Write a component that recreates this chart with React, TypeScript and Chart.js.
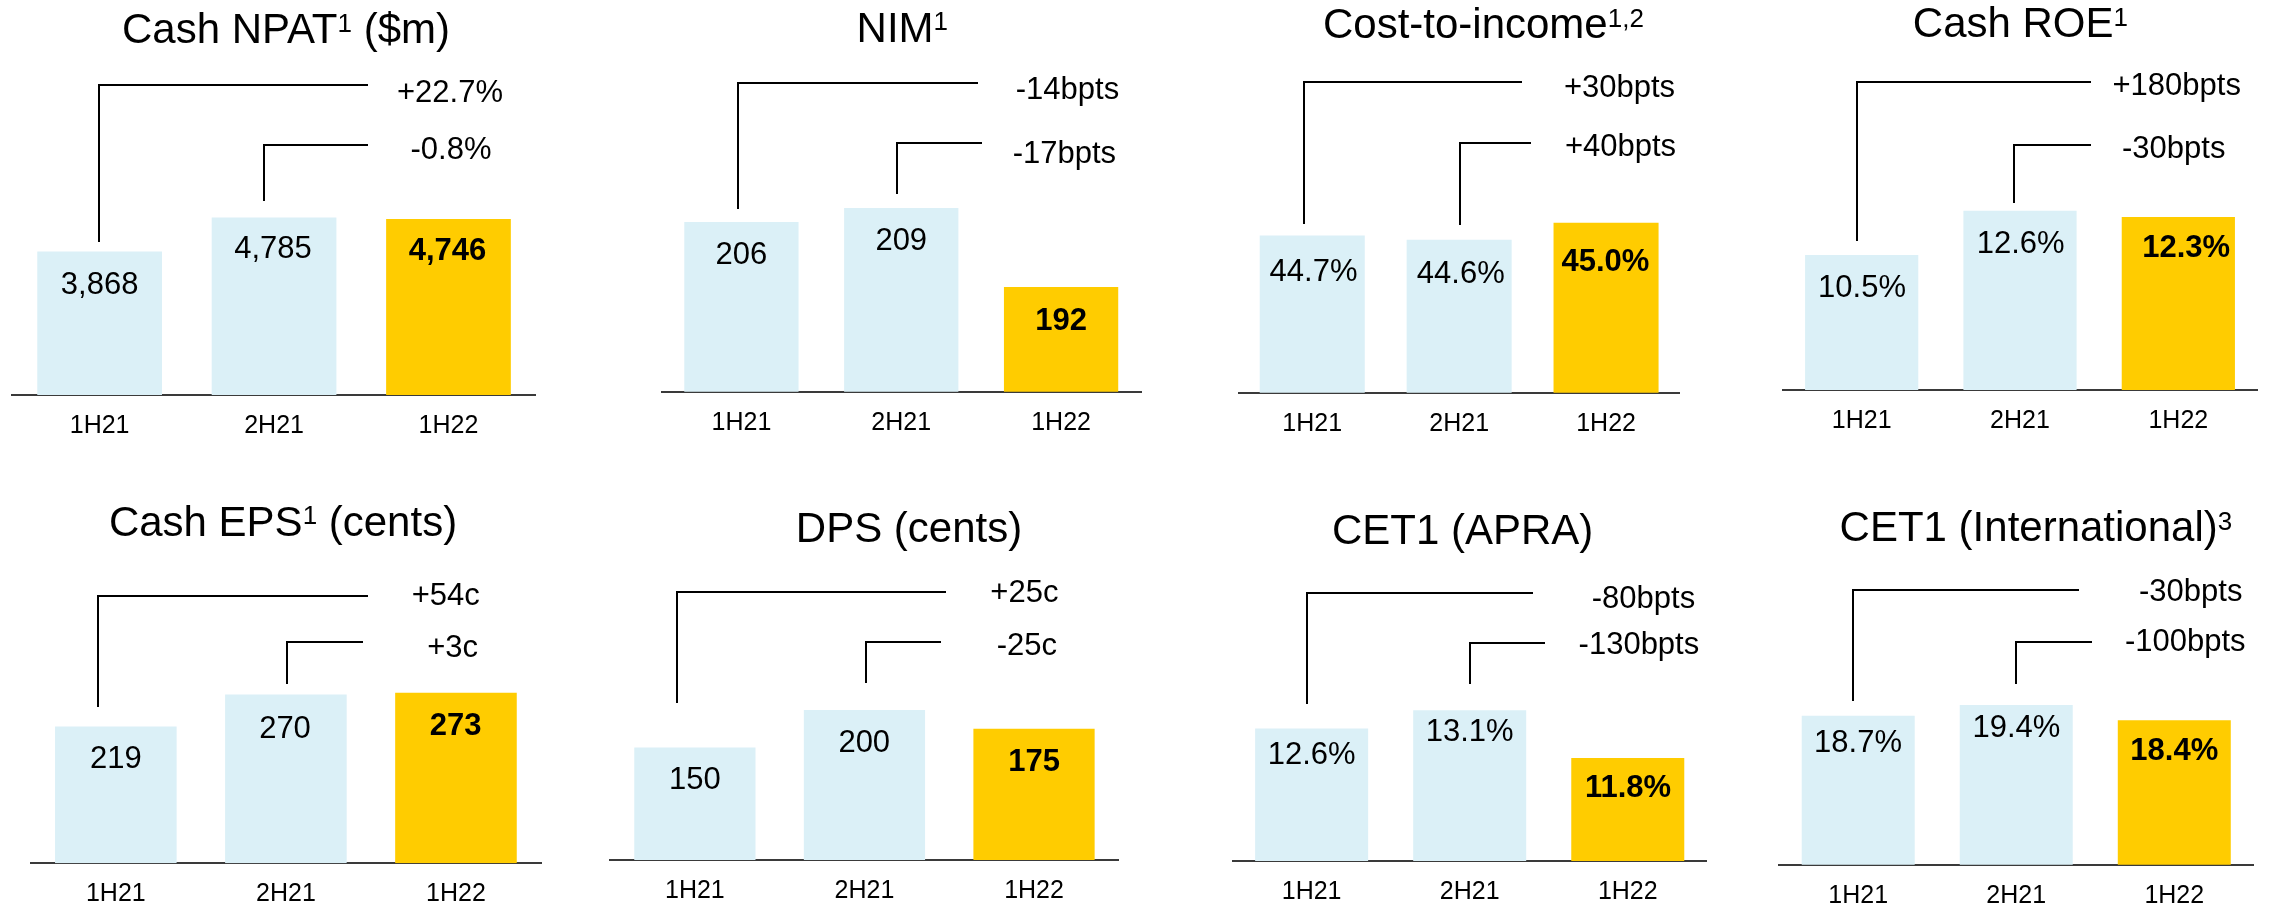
import React, { useEffect, useRef } from 'react';
import { Chart, registerables } from 'chart.js';

Chart.register(...registerables);

// ---------------- DATA ----------------
const categories = ['1H21', '2H21', '1H22'];

const npatValues = [3868, 4785, 4746];
const nimValues = [206, 209, 192];
const costToIncomeValues = [44.7, 44.6, 45.0];
const roeValues = [10.5, 12.6, 12.3];
const epsValues = [219, 270, 273];
const dpsValues = [150, 200, 175];
const cetApraValues = [12.6, 13.1, 11.8];
const cetIntlValues = [18.7, 19.4, 18.4];

const npatChanges = ['+22.7%', '-0.8%'];
const nimChanges = ['-14bpts', '-17bpts'];
const costToIncomeChanges = ['+30bpts', '+40bpts'];
const roeChanges = ['+180bpts', '-30bpts'];
const epsChanges = ['+54c', '+3c'];
const dpsChanges = ['+25c', '-25c'];
const cetApraChanges = ['-80bpts', '-130bpts'];
const cetIntlChanges = ['-30bpts', '-100bpts'];

// title segments: [text, isSuperscript]
const npatTitle: [string, boolean][] = [['Cash NPAT', false], ['1', true], [' ($m)', false]];
const nimTitle: [string, boolean][] = [['NIM', false], ['1', true]];
const costToIncomeTitle: [string, boolean][] = [['Cost-to-income', false], ['1,2', true]];
const roeTitle: [string, boolean][] = [['Cash ROE', false], ['1', true]];
const epsTitle: [string, boolean][] = [['Cash EPS', false], ['1', true], [' (cents)', false]];
const dpsTitle: [string, boolean][] = [['DPS (cents)', false]];
const cetApraTitle: [string, boolean][] = [['CET1 (APRA)', false]];
const cetIntlTitle: [string, boolean][] = [['CET1 (International)', false], ['3', true]];

// ---------------- STYLE / LAYOUT ----------------
const FONT = '"Liberation Sans", Arial, Helvetica, sans-serif';
const PAGE_W = 2270;
const ROW_H = 454;
const CHART_TOP = 60;
const X_AXIS_H = 40;
const BLUE = '#DBF0F7';
const YELLOW = '#FFCC00';
const barColors = [BLUE, BLUE, YELLOW];

const fmtThousands = (v: number) => v.toLocaleString('en-US');
const fmtPlain = (v: number) => String(v);
const fmtPct = (v: number) => v.toFixed(1) + '%';

type Bracket = { bar: number; dx: number; top: number; gap: number; right: number; lx: number; ly: number };
type PanelCfg = {
  title: [string, boolean][];
  values: number[];
  changes: string[];
  fmt: (v: number) => string;
  row: number;
  left: number;
  right: number;
  axisY: number;
  yMin: number;
  yMax: number;
  titleX: number;
  titleY: number;
  labelDx: number[];
  labelDy: number[];
  brackets: Bracket[];
};

const panels: PanelCfg[] = [
  {
    title: npatTitle, values: npatValues, changes: npatChanges, fmt: fmtThousands,
    row: 0, left: 12.4, right: 535.7, axisY: 395, yMin: 0, yMax: 9030,
    titleX: 286, titleY: 43.3, labelDx: [0, -1, -1], labelDy: [42, 41, 41],
    brackets: [
      { bar: 0, dx: -0.5, top: 85, gap: 10, right: 368, lx: 450, ly: 90.8 },
      { bar: 1, dx: -9.9, top: 144.7, gap: 16, right: 368, lx: 451, ly: 148.3 },
    ],
  },
  {
    title: nimTitle, values: nimValues, changes: nimChanges, fmt: fmtPlain,
    row: 0, left: 661.5, right: 1141, axisY: 391.7, yMin: 169.47, yMax: 240.85,
    titleX: 902.3, titleY: 41.7, labelDx: [0, 0, 0], labelDy: [42.3, 42, 43],
    brackets: [
      { bar: 0, dx: -3.5, top: 83.3, gap: 12.7, right: 978, lx: 1067.5, ly: 88 },
      { bar: 1, dx: -4.1, top: 143.3, gap: 13.7, right: 981.5, lx: 1064.4, ly: 152 },
    ],
  },
  {
    title: costToIncomeTitle, values: costToIncomeValues, changes: costToIncomeChanges, fmt: fmtPct,
    row: 0, left: 1238.8, right: 1679.5, axisY: 392.7, yMin: 41.0, yMax: 48.83,
    titleX: 1483.4, titleY: 38.3, labelDx: [1.3, 1.6, -0.6], labelDy: [45.7, 43.3, 48.7],
    brackets: [
      { bar: 0, dx: -8.4, top: 82.3, gap: 11, right: 1522.4, lx: 1619.5, ly: 85.8 },
      { bar: 1, dx: 0.7, top: 143.3, gap: 15, right: 1530.8, lx: 1620.5, ly: 144.5 },
    ],
  },
  {
    title: roeTitle, values: roeValues, changes: roeChanges, fmt: fmtPct,
    row: 0, left: 1782.5, right: 2257.5, axisY: 390, yMin: 4.07, yMax: 19.78,
    titleX: 2020.4, titleY: 37.3, labelDx: [0.4, 0.7, 7.8], labelDy: [41.7, 41.7, 39.7],
    brackets: [
      { bar: 0, dx: -4.4, top: 82.3, gap: 14.3, right: 2090.8, lx: 2176.7, ly: 83.7 },
      { bar: 1, dx: -5.9, top: 145, gap: 7.7, right: 2090.8, lx: 2173.7, ly: 146.7 },
    ],
  },
  {
    title: epsTitle, values: epsValues, changes: epsChanges, fmt: fmtPlain,
    row: 1, left: 30.8, right: 541, axisY: 863.3, yMin: 0, yMax: 558.9,
    titleX: 283, titleY: 535.7, labelDx: [0, -0.9, -0.4], labelDy: [42, 43.3, 42.7],
    brackets: [
      { bar: 0, dx: -17.7, top: 595.7, gap: 19.7, right: 368, lx: 445.7, ly: 594 },
      { bar: 1, dx: 0.9, top: 641.7, gap: 10.7, right: 362.8, lx: 452.6, ly: 646.2 },
    ],
  },
  {
    title: dpsTitle, values: dpsValues, changes: dpsChanges, fmt: fmtPlain,
    row: 1, left: 610.1, right: 1118.8, axisY: 860, yMin: 0, yMax: 461.3,
    titleX: 909, titleY: 542.3, labelDx: [0, -0.2, 0.2], labelDy: [41.7, 42.3, 42.7],
    brackets: [
      { bar: 0, dx: -18, top: 591.7, gap: 44.3, right: 945.5, lx: 1024.4, ly: 590.7 },
      { bar: 1, dx: 1.1, top: 642.3, gap: 26.7, right: 940.8, lx: 1026.9, ly: 644 },
    ],
  },
  {
    title: cetApraTitle, values: cetApraValues, changes: cetApraChanges, fmt: fmtPct,
    row: 1, left: 1232.6, right: 1706.8, axisY: 861, yMin: 9.01, yMax: 18.42,
    titleX: 1462.6, titleY: 544, labelDx: [0, 0, 0.3], labelDy: [35.7, 31.3, 39.3],
    brackets: [
      { bar: 0, dx: -4.4, top: 593.3, gap: 25, right: 1532.6, lx: 1643.5, ly: 596.5 },
      { bar: 1, dx: 0.3, top: 643, gap: 26, right: 1544.6, lx: 1638.9, ly: 643.2 },
    ],
  },
  {
    title: cetIntlTitle, values: cetIntlValues, changes: cetIntlChanges, fmt: fmtPct,
    row: 1, left: 1779.2, right: 2253.3, axisY: 864.7, yMin: 8.9, yMax: 31.97,
    titleX: 2035.9, titleY: 541.3, labelDx: [-0.2, 0.1, 0], labelDy: [36, 31.7, 40],
    brackets: [
      { bar: 0, dx: -5.3, top: 590, gap: 15, right: 2078.8, lx: 2190.7, ly: 590.2 },
      { bar: 1, dx: 0, top: 642.3, gap: 21, right: 2091.5, lx: 2185.3, ly: 640 },
    ],
  },
];

const TITLE_SIZE = 42;
const SUP_SIZE = 26;
const VALUE_SIZE = 31;
const CHANGE_SIZE = 31;
const TICK_SIZE = 25;

function drawTitle(ctx: CanvasRenderingContext2D, segs: [string, boolean][], cx: number, baseline: number) {
  const widths = segs.map(([t, sup]) => {
    ctx.font = `${sup ? SUP_SIZE : TITLE_SIZE}px ${FONT}`;
    return ctx.measureText(t).width;
  });
  const total = widths.reduce((a, b) => a + b, 0);
  let x = cx - total / 2;
  ctx.textAlign = 'left';
  ctx.textBaseline = 'alphabetic';
  ctx.fillStyle = '#000';
  segs.forEach(([t, sup], i) => {
    ctx.font = `${sup ? SUP_SIZE : TITLE_SIZE}px ${FONT}`;
    const y = sup ? baseline - 0.716 * (TITLE_SIZE - SUP_SIZE) : baseline;
    ctx.fillText(t, x, y);
    x += widths[i];
  });
}

function makeAnnotations(p: PanelCfg) {
  return {
    id: 'panelAnnotations',
    afterDraw(chart: any) {
      const ctx: CanvasRenderingContext2D = chart.ctx;
      const rowTop = p.row * ROW_H;
      const meta = chart.getDatasetMeta(0);
      ctx.save();
      drawTitle(ctx, p.title, p.titleX, p.titleY - rowTop);

      ctx.fillStyle = '#000';
      ctx.textAlign = 'center';
      ctx.textBaseline = 'alphabetic';
      meta.data.forEach((bar: any, i: number) => {
        ctx.font = `${i === 2 ? 'bold ' : ''}${VALUE_SIZE}px ${FONT}`;
        ctx.fillText(p.fmt(p.values[i]), bar.x + p.labelDx[i], bar.y + p.labelDy[i]);
      });

      ctx.strokeStyle = '#000';
      ctx.lineWidth = 2;
      p.brackets.forEach((b, k) => {
        const bar = meta.data[b.bar];
        const bx = Math.round(bar.x + b.dx);
        const top = Math.round(b.top - rowTop);
        const bottom = Math.round(bar.y - b.gap);
        ctx.beginPath();
        ctx.moveTo(bx, bottom);
        ctx.lineTo(bx, top);
        ctx.lineTo(Math.round(b.right), top);
        ctx.stroke();
        ctx.font = `${CHANGE_SIZE}px ${FONT}`;
        ctx.textAlign = 'center';
        ctx.fillText(p.changes[k], b.lx, b.ly - rowTop + 0.358 * CHANGE_SIZE);
      });
      ctx.restore();
    },
  };
}

function Panel({ p }: { p: PanelCfg }) {
  const ref = useRef<HTMLCanvasElement>(null);
  useEffect(() => {
    const canvas = ref.current!;
    const rowTop = p.row * ROW_H;
    const axisYc = p.axisY - rowTop;
    const chart = new Chart(canvas, {
      type: 'bar',
      data: {
        labels: categories,
        datasets: [
          {
            data: p.values,
            backgroundColor: barColors,
            borderWidth: 0,
            categoryPercentage: 1,
            barPercentage: 0.715,
          },
        ],
      },
      options: {
        animation: false,
        responsive: false,
        maintainAspectRatio: false,
        devicePixelRatio: 1,
        events: [],
        layout: {
          padding: {
            left: p.left,
            right: PAGE_W - p.right,
            top: CHART_TOP,
            bottom: ROW_H - X_AXIS_H - axisYc,
          },
        },
        plugins: {
          legend: { display: false },
          tooltip: { enabled: false },
          title: { display: false },
        },
        scales: {
          x: {
            type: 'category',
            offset: true,
            z: 1,
            grid: { display: true, drawOnChartArea: false, drawTicks: false, color: 'rgba(0,0,0,0)' },
            border: { display: true, color: '#3a3a3a', width: 2 },
            ticks: {
              color: '#000',
              font: { family: FONT, size: TICK_SIZE },
              padding: 16,
              maxRotation: 0,
              autoSkip: false,
            },
            afterFit: (s: any) => {
              s.height = X_AXIS_H;
            },
          },
          y: { display: false, min: p.yMin, max: p.yMax },
        },
      } as any,
      plugins: [makeAnnotations(p)],
    });
    return () => chart.destroy();
  }, [p]);
  return (
    <canvas
      ref={ref}
      width={PAGE_W}
      height={ROW_H}
      style={{ position: 'absolute', left: 0, top: p.row * ROW_H, width: PAGE_W, height: ROW_H }}
    />
  );
}

export default function App() {
  return (
    <div style={{ position: 'absolute', left: 0, top: 0, width: PAGE_W, height: ROW_H * 2, background: '#fff', overflow: 'hidden' }}>
      {panels.map((p, i) => (
        <Panel key={i} p={p} />
      ))}
    </div>
  );
}
